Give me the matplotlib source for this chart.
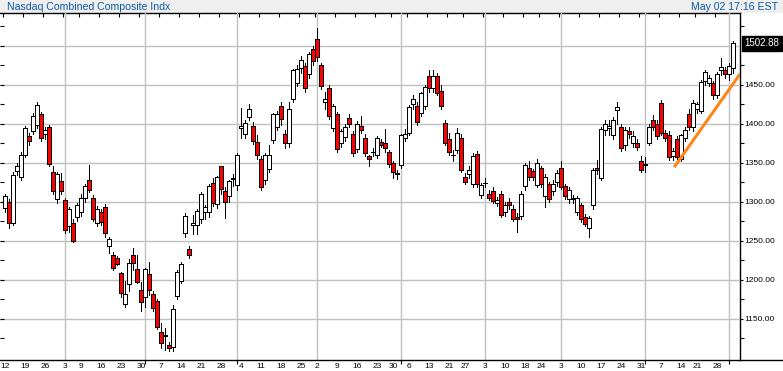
import matplotlib
matplotlib.use('Agg')
import matplotlib.pyplot as plt
import matplotlib.transforms as mtransforms
from matplotlib.lines import Line2D
from matplotlib.patches import Rectangle
import pandas as pd

plt.rcParams['font.family'] = ['Liberation Sans', 'DejaVu Sans']

# trading days Aug 12 2002 .. May 2 2003
holidays = ['2002-09-02', '2002-11-28', '2002-12-25', '2003-01-01',
            '2003-01-20', '2003-02-17', '2003-04-18']
dates = pd.bdate_range('2002-08-12', '2003-05-02', freq='C', holidays=holidays)

opens = [1292, 1300, 1273, 1339, 1332, 1360, 1384, 1390, 1398, 1412,
         1387, 1396, 1338, 1303, 1326, 1302, 1268, 1273, 1280, 1286,
         1305, 1328, 1305, 1272, 1286, 1293, 1243, 1232, 1228, 1208,
         1169, 1194, 1231, 1213, 1187, 1178, 1207, 1182, 1173, 1133,
         1127, 1116, 1114, 1179, 1198, 1259, 1239, 1270, 1270, 1277,
         1286, 1287, 1324, 1297, 1345, 1313, 1307, 1329, 1321, 1394,
         1386, 1408, 1397, 1376, 1354, 1328, 1342, 1379, 1396, 1422,
         1387, 1375, 1431, 1452, 1471, 1474, 1463, 1496, 1508, 1475,
         1427, 1445, 1394, 1412, 1375, 1383, 1407, 1387, 1367, 1397,
         1381, 1358, 1363, 1360, 1376, 1375, 1363, 1349, 1336, 1347,
         1382, 1388, 1425, 1423, 1414, 1423, 1461, 1445, 1461, 1442,
         1401, 1380, 1360, 1366, 1382, 1331, 1335, 1323, 1361, 1308,
         1324, 1309, 1314, 1298, 1310, 1286, 1300, 1291, 1280, 1282,
         1320, 1343, 1339, 1321, 1343, 1307, 1322, 1313, 1325, 1343,
         1320, 1303, 1305, 1286, 1295, 1280, 1266, 1296, 1343, 1330,
         1392, 1394, 1385, 1417, 1396, 1372, 1390, 1375, 1375, 1352,
         1347, 1375, 1405, 1399, 1426, 1388, 1385, 1358, 1380, 1355,
         1381, 1412, 1395, 1418, 1416, 1454, 1452, 1452, 1437, 1468,
         1468, 1463, 1471]
highs = [1310, 1303, 1338, 1350, 1363, 1397, 1388, 1413, 1428, 1415,
         1396, 1398, 1346, 1338, 1336, 1305, 1293, 1278, 1298, 1310,
         1322, 1347, 1308, 1294, 1290, 1297, 1255, 1235, 1230, 1210,
         1198, 1226, 1240, 1232, 1197, 1215, 1222, 1185, 1175, 1144,
         1138, 1120, 1167, 1212, 1222, 1285, 1243, 1283, 1290, 1312,
         1296, 1322, 1330, 1333, 1346, 1318, 1328, 1335, 1362, 1420,
         1405, 1425, 1402, 1385, 1358, 1362, 1373, 1414, 1416, 1427,
         1392, 1428, 1470, 1475, 1487, 1478, 1492, 1500, 1522, 1478,
         1440, 1450, 1425, 1415, 1393, 1400, 1412, 1390, 1403, 1409,
         1386, 1360, 1368, 1384, 1380, 1393, 1366, 1352, 1341, 1387,
         1393, 1424, 1436, 1427, 1441, 1450, 1468, 1468, 1465, 1449,
         1404, 1388, 1366, 1394, 1386, 1336, 1346, 1362, 1365, 1324,
         1330, 1315, 1318, 1306, 1313, 1300, 1305, 1295, 1285, 1313,
         1350, 1352, 1342, 1355, 1346, 1335, 1325, 1328, 1340, 1352,
         1323, 1318, 1308, 1307, 1298, 1284, 1282, 1343, 1353, 1396,
         1404, 1404, 1408, 1427, 1400, 1395, 1396, 1390, 1380, 1358,
         1357, 1400, 1411, 1404, 1430, 1392, 1390, 1368, 1384, 1387,
         1395, 1419, 1430, 1428, 1456, 1469, 1462, 1455, 1466, 1484,
         1473, 1478, 1506]
lows = [1287, 1266, 1270, 1334, 1328, 1357, 1372, 1386, 1394, 1377,
        1380, 1345, 1310, 1298, 1310, 1260, 1261, 1248, 1275, 1282,
        1300, 1312, 1275, 1268, 1270, 1255, 1234, 1212, 1218, 1178,
        1165, 1185, 1212, 1195, 1159, 1165, 1180, 1160, 1136, 1112,
        1110, 1108, 1108, 1175, 1195, 1255, 1228, 1258, 1258, 1272,
        1278, 1280, 1294, 1292, 1310, 1279, 1300, 1320, 1315, 1381,
        1381, 1404, 1374, 1355, 1315, 1322, 1338, 1375, 1392, 1398,
        1369, 1370, 1428, 1448, 1465, 1440, 1458, 1475, 1480, 1444,
        1418, 1406, 1390, 1364, 1370, 1378, 1395, 1358, 1363, 1388,
        1358, 1345, 1358, 1356, 1370, 1364, 1344, 1330, 1329, 1343,
        1377, 1385, 1418, 1398, 1410, 1418, 1440, 1440, 1436, 1419,
        1372, 1360, 1352, 1362, 1338, 1322, 1330, 1318, 1318, 1304,
        1318, 1302, 1298, 1294, 1280, 1282, 1290, 1275, 1261, 1278,
        1315, 1328, 1328, 1318, 1318, 1293, 1300, 1308, 1320, 1316,
        1303, 1298, 1298, 1283, 1274, 1268, 1254, 1290, 1335, 1327,
        1385, 1385, 1380, 1400, 1365, 1366, 1381, 1370, 1366, 1338,
        1338, 1372, 1392, 1380, 1385, 1378, 1353, 1353, 1354, 1352,
        1378, 1392, 1391, 1414, 1413, 1450, 1448, 1432, 1433, 1462,
        1458, 1456, 1465]
closes = [1307, 1273, 1334, 1345, 1360, 1394, 1377, 1410, 1424, 1381,
          1392, 1348, 1314, 1335, 1314, 1263, 1291, 1250, 1295, 1304,
          1320, 1315, 1278, 1291, 1274, 1259, 1252, 1215, 1220, 1183,
          1181, 1221, 1221, 1197, 1171, 1213, 1186, 1164, 1139, 1118,
          1129, 1112, 1162, 1209, 1220, 1282, 1231, 1272, 1288, 1310,
          1293, 1320, 1298, 1331, 1316, 1300, 1326, 1330, 1360, 1397,
          1401, 1419, 1377, 1360, 1318, 1360, 1360, 1412, 1412, 1406,
          1375, 1419, 1468, 1470, 1482, 1445, 1489, 1480, 1485, 1448,
          1431, 1410, 1422, 1367, 1390, 1396, 1399, 1362, 1400, 1392,
          1362, 1354, 1364, 1381, 1372, 1368, 1348, 1338, 1335, 1385,
          1387, 1421, 1431, 1402, 1439, 1447, 1446, 1461, 1439, 1423,
          1375, 1364, 1360, 1388, 1341, 1325, 1341, 1358, 1322, 1321,
          1324, 1305, 1301, 1302, 1283, 1296, 1296, 1278, 1277, 1310,
          1347, 1332, 1332, 1349, 1322, 1331, 1303, 1323, 1337, 1319,
          1307, 1315, 1303, 1304, 1277, 1271, 1279, 1340, 1340, 1393,
          1400, 1397, 1405, 1421, 1369, 1392, 1387, 1384, 1370, 1341,
          1348, 1396, 1396, 1384, 1388, 1382, 1357, 1365, 1357, 1385,
          1392, 1395, 1426, 1425, 1453, 1466, 1458, 1437, 1463, 1472,
          1464, 1474, 1503]

last_price = 1502.88
trend_x = [167.3, 183.75]
trend_y = [1344, 1463.5]
y_major = [1150, 1200, 1250, 1300, 1350, 1400, 1450, 1500]

W, H = 783, 371
fig = plt.figure(figsize=(W / 100, H / 100), dpi=100)
ax = fig.add_axes([0, 11 / H, 740 / W, (360 - 13.3) / H])

x = list(range(len(dates)))
bottoms = [min(o, c) for o, c in zip(opens, closes)]
heights = [abs(c - o) for o, c in zip(opens, closes)]
colors = ['white' if c >= o else '#ff0000' for o, c in zip(opens, closes)]

ax.vlines(x, lows, highs, color='black', lw=0.7, zorder=3, antialiased=False)
ax.bar(x, heights, bottom=bottoms, width=0.95, color=colors,
       edgecolor='black', lw=0.5, zorder=4, antialiased=False)

ax.plot(trend_x, trend_y, color='#ff8418', lw=2.2, zorder=5,
        solid_capstyle='butt')

ax.set_xlim(-1.25, 183.75)
ax.set_ylim(1096.8, 1541.3)

# week starts / month starts
week_pos, week_lab, month_pos = [0], [str(dates[0].day)], []
for i in range(1, len(dates)):
    if dates[i].weekday() <= dates[i - 1].weekday():
        week_pos.append(i)
        week_lab.append(str(dates[i].day))
    if dates[i].month != dates[i - 1].month:
        month_pos.append(i)

for m in month_pos:
    ax.axvline(m, color='#c0c0c0', lw=1.0, zorder=1)
for v in y_major:
    ax.axhline(v, color='#c0c0c0', lw=1.0, zorder=1)

ax.set_xticks(week_pos)
ax.set_xticklabels(week_lab, fontsize=6)
ax.set_xticks(month_pos, minor=True)
ax.tick_params(axis='x', which='major', length=0, pad=2)
ax.tick_params(axis='x', which='minor', length=3, direction='out', width=0.8)

# left inward ticks
ax.set_yticks(list(range(1125, 1526, 25)))
ax.tick_params(axis='y', which='major', direction='in', length=3, width=0.8,
               labelleft=False, left=True)

secy = ax.secondary_yaxis('right')
secy.set_yticks(y_major[:-1])
secy.set_yticklabels(['%.2f' % v for v in y_major[:-1]], fontsize=6)
secy.set_yticks(list(range(1125, 1526, 50)), minor=True)
secy.tick_params(which='major', direction='out', length=2, width=0.8, pad=1)
secy.tick_params(which='minor', direction='out', length=3, width=0.8)

secx = ax.secondary_xaxis('top')
secx.set_xticks([p - 0.5 for p in week_pos])
secx.tick_params(direction='in', length=3, width=0.8, labeltop=False)

ax.spines['left'].set_visible(False)
ax.spines['right'].set_visible(False)
ax.spines['top'].set_visible(False)
secy.spines['right'].set_linewidth(1.0)
ax.spines['bottom'].set_linewidth(1.0)
secx.spines['top'].set_linewidth(1.0)

# extend bottom line to the edge
fig.add_artist(Line2D([740 / W, 1], [11 / H, 11 / H], color='black', lw=1.0))

# header band
fig.add_artist(Rectangle((0, 1 - 13 / H), 1, 13 / H, transform=fig.transFigure,
                         facecolor='#efefef', edgecolor='none', zorder=0))
fig.text(7 / W, 1 - 6.5 / H, 'Nasdaq Combined Composite Indx', fontsize=7.6,
         color='#0f5aa6', va='center', ha='left')
fig.text(778 / W, 1 - 6.5 / H, 'May 02 17:16 EST', fontsize=7.6,
         color='#0f5aa6', va='center', ha='right')

# last price box
tr = mtransforms.blended_transform_factory(ax.transAxes, ax.transData)
ax.text(1.006, last_price, '%.2f' % last_price, transform=tr, fontsize=7,
        color='white', va='center', ha='left', clip_on=False, zorder=6,
        bbox=dict(boxstyle='square,pad=0.25', facecolor='black',
                  edgecolor='black'))

fig.savefig('out.png', dpi=100)
